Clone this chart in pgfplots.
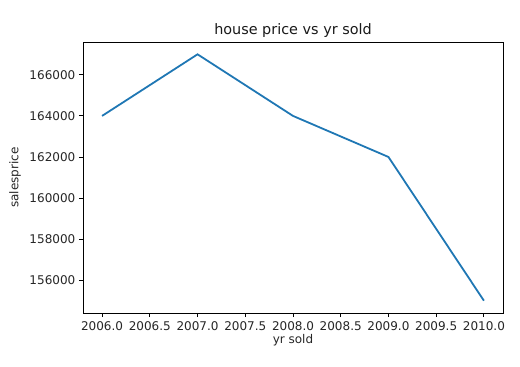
\documentclass[border=0pt]{standalone}
\usepackage{fontspec}
\setmainfont{DejaVu Sans}
\usepackage{pgfplots}
\pgfplotsset{compat=1.18}
\definecolor{mplblue}{HTML}{1F77B4}
\begin{document}
\begin{tikzpicture}
\begin{axis}[
  scale only axis, width=420pt, height=271pt,
  xmin=2005.8, xmax=2010.2, ymin=154400, ymax=167600,
  scaled y ticks=false, scaled x ticks=false,
  xtick={2006,2006.5,2007,2007.5,2008,2008.5,2009,2009.5,2010},
  xticklabels={2006.0,2006.5,2007.0,2007.5,2008.0,2008.5,2009.0,2009.5,2010.0},
  ytick={156000,158000,160000,162000,164000,166000},
  yticklabels={156000,158000,160000,162000,164000,166000},
  xtick pos=lower, ytick pos=left,
  tick align=outside, major tick length=4.2pt,
  every tick/.style={black, line width=0.9pt},
  axis line style={line width=0.9pt},
  ticklabel style={font=\fontsize{12}{14}\selectfont, text=black!85},
  xticklabel style={yshift=-1pt},
  title={house price vs yr sold},
  title style={font=\fontsize{14.4}{16}\selectfont, text=black!90, yshift=-5pt},
  xlabel={yr sold},
  ylabel={salesprice},
  every axis x label/.style={at={(axis description cs:0.5,-0.0996)}, anchor=center, font=\fontsize{12}{14}\selectfont, text=black!85},
  every axis y label/.style={at={(axis description cs:-0.162,0.5)}, anchor=center, rotate=90, font=\fontsize{12}{14}\selectfont, text=black!85},
]
\addplot[mplblue, line width=1.8pt] coordinates {
  (2006,164000) (2007,167000) (2008,164000) (2009,162000) (2010,155000)
};
\end{axis}
\pgfresetboundingbox
\path (-83pt,-54pt) rectangle (437pt,313pt);
\end{tikzpicture}
\end{document}
